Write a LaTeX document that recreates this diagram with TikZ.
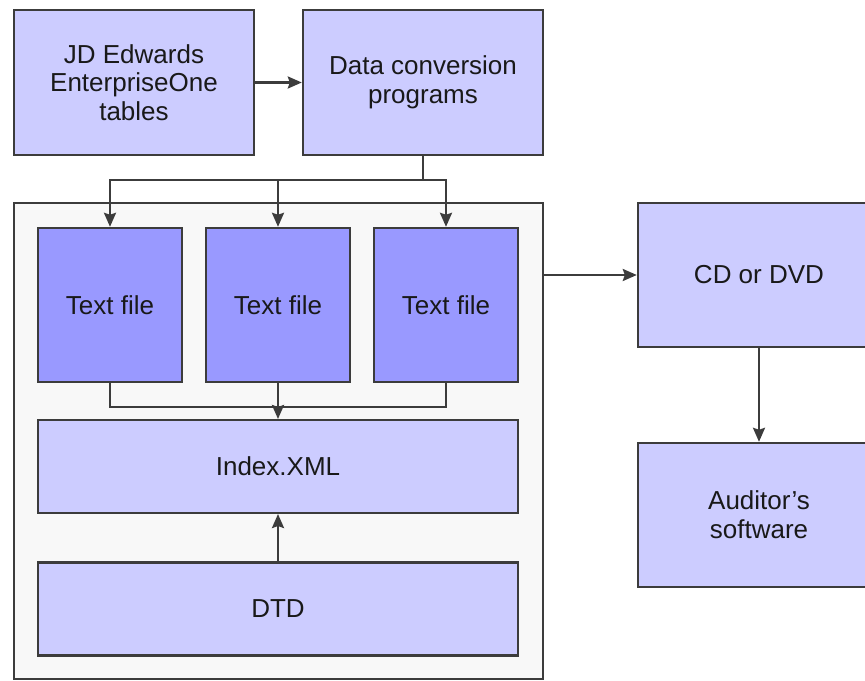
\documentclass[tikz,border=0pt]{standalone}
\usepackage{fontspec}
\setmainfont{Liberation Sans}
\usepackage{tikz}
\usetikzlibrary{arrows.meta, positioning}
\usepackage{xcolor}
\definecolor{boxlight}{HTML}{CCCCFF}
\definecolor{boxdark}{HTML}{9999FF}
\definecolor{panel}{HTML}{F8F8F8}
\definecolor{edge}{HTML}{3C3C3C}

\begin{document}
\begin{tikzpicture}[x=0.75pt, y=-0.75pt,
        every node/.style={font=\fontsize{19.5}{21.5}\selectfont, text=black!90},
        block/.style={draw=edge, line width=1.8pt, fill=boxlight, align=center, inner sep=0pt},
        wide/.style={block, minimum width=180pt, minimum height=108.75pt},
        filebox/.style={block, fill=boxdark, minimum width=108pt, minimum height=115.5pt},
        layer/.style={block, minimum width=360pt, minimum height=69.5pt},
        media/.style={block, minimum width=181.5pt, minimum height=108pt},
        link/.style={draw=edge, line width=1.8pt},
        arr/.style={link, -{Stealth[length=10.5pt, width=9pt, inset=1.5pt]}}]
        \useasboundingbox (0,0) rectangle (865,681);

        % Panel holding the archive files
        \node[draw=edge, line width=1.8pt, fill=panel, minimum width=396.75pt, minimum height=357pt] (archive) at (278.5,441) {};

        % Source and conversion
        \node[wide] (jde) at (134,82.5) {JD Edwards\\EnterpriseOne\\tables};
        \node[wide] (conv) at (423,82.5) {Data conversion\\programs};

        % Text files inside the panel
        \node[filebox] (txta) at (110,305) {Text file};
        \node[filebox] (txtb) at (278,305) {Text file};
        \node[filebox] (txtc) at (446,305) {Text file};

        \node[layer] (index) at (278,466.5) {Index.XML};
        \node[layer] (dtd) at (278,609) {DTD};

        % Output media
        \node[media] (cd) at (759,275) {CD or DVD};
        \node[media] (aud) at (759,515) {Auditor's\\software};

        % Connectors
        \draw[arr] (jde) -- (conv);

        \coordinate (split) at (423,180);
        \draw[link] (conv) -- (split);
        \draw[arr] (split) -| (txta);
        \draw[arr] (split) -| (txtb);
        \draw[arr] (split) -| (txtc);

        \coordinate (merge) at (278,407);
        \draw[link] (txta) |- (merge);
        \draw[link] (txtc) |- (merge);
        \draw[arr] (txtb) -- (index);

        \draw[arr] (dtd) -- (index);

        \draw[arr] (archive.east |- cd.west) -- (cd.west);
        \draw[arr] (cd) -- (aud);

    \end{tikzpicture}
\end{document}
